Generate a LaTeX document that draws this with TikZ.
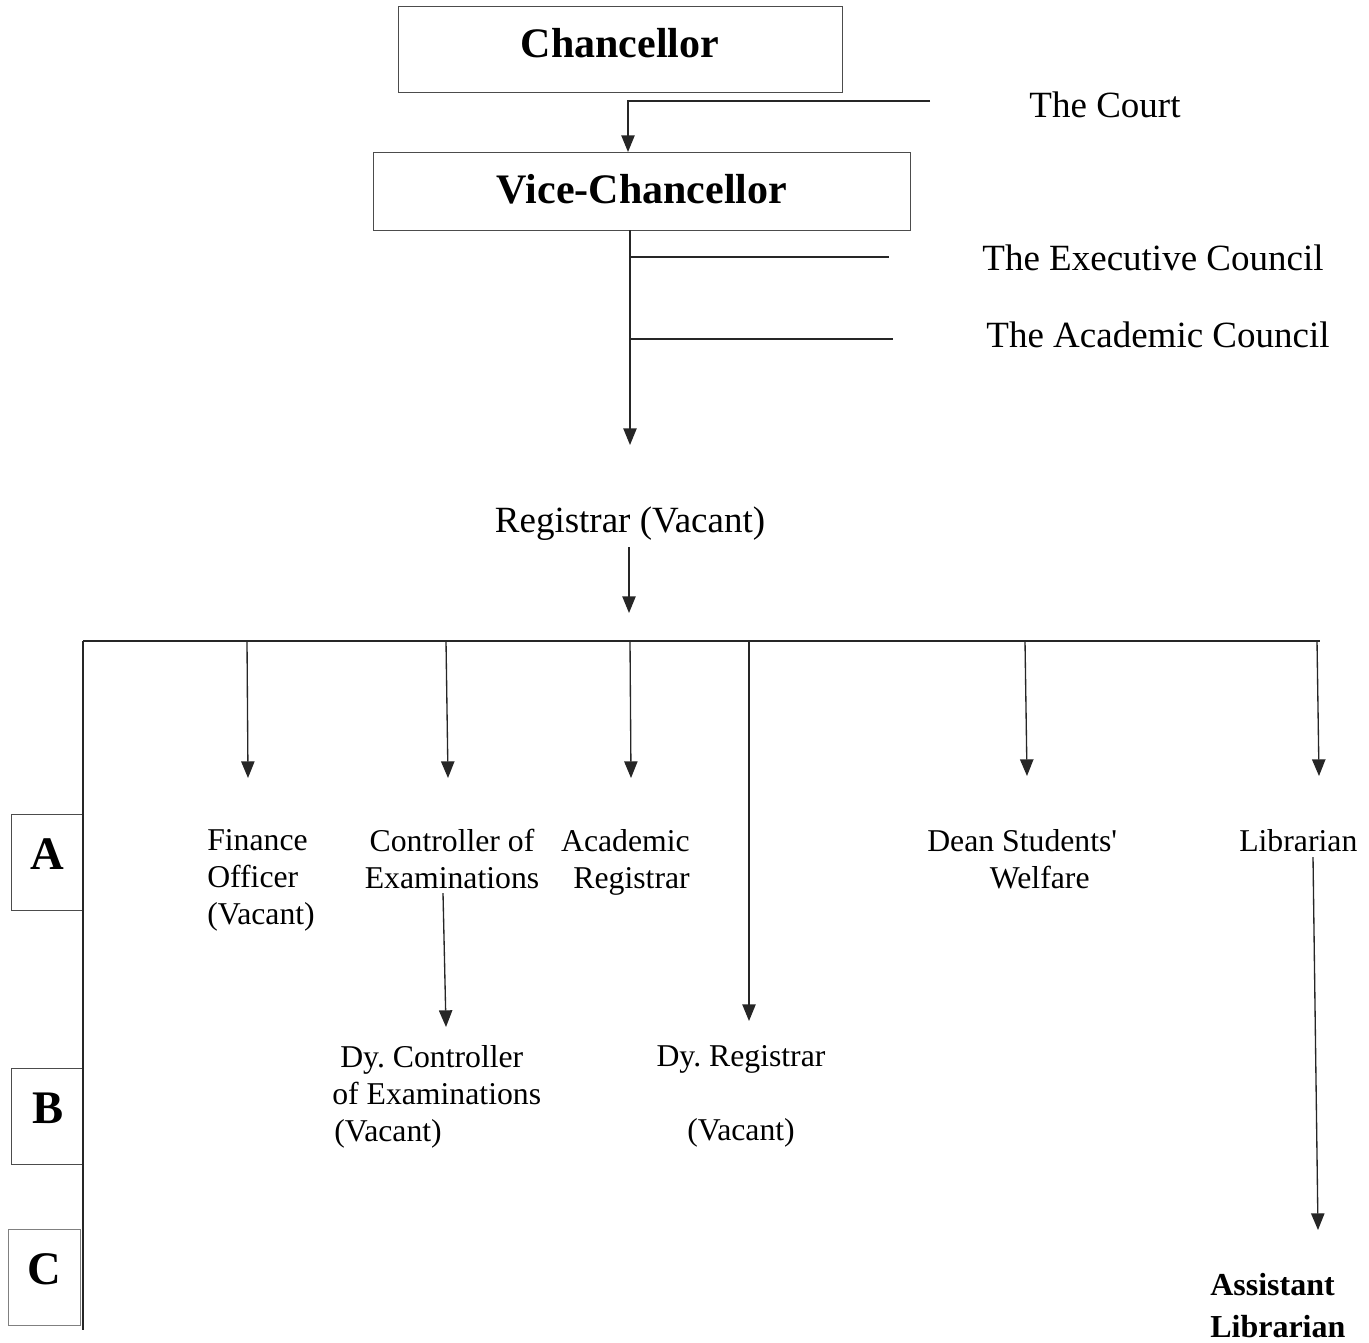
\documentclass[tikz,border=0pt]{standalone}
\usepackage{fontspec}
\setmainfont{Liberation Serif}
\newfontfamily\plainquote{Liberation Serif}[Ligatures=TeXOff]
\usetikzlibrary{arrows.meta}
\begin{document}
\frenchspacing
\begin{tikzpicture}[x=0.75pt,y=-0.75pt,
  line/.style={line width=1pt, draw=black!85},
  arr/.style={line width=1pt, draw=black!85, -{Triangle[width=10pt,length=12.5pt]}},
  box/.style={draw=black!70, line width=1pt, inner sep=0pt},
  reg/.style={font=\fontsize{27.75}{27.75}\selectfont, inner sep=0pt},
  small/.style={font=\fontsize{23.8}{27.75}\selectfont\frenchspacing, inner sep=0pt},
  head/.style={font=\fontsize{31.5}{31.5}\selectfont\bfseries, inner sep=0pt},
  lvl/.style={box, minimum width=54pt, minimum height=72pt, text height=24pt, text depth=13.5pt,
    font=\fontsize{35}{35}\selectfont\bfseries},
]
\useasboundingbox (0,0) rectangle (1369,1342);

% top boxes
\node[box, anchor=north west, minimum width=333pt, minimum height=64.5pt] (chanbox) at (398,6) {};
\node[head, anchor=base] (chan) at (620,57) {Chancellor};
\node[box, anchor=north west, minimum width=402.75pt, minimum height=58.5pt] (vcbox) at (373,152) {};
\node[head, anchor=base] (vc) at (642,203) {Vice-Chancellor};

% bodies
\node[reg, anchor=base] (court) at (1105,117) {The Court};
\node[reg, anchor=base] (exec) at (1153,270) {The Executive Council};
\node[reg, anchor=base] (acad) at (1158,347) {The Academic Council};
\node[reg, anchor=base] (registrar) at (630,532) {Registrar (Vacant)};

% level A
\node[small, anchor=north west, align=left] (fin) at (207,829) {Finance\\Officer\\(Vacant)};
\node[small, anchor=north, align=center] (coe) at (452,829) {Controller of\\Examinations};
\node[small, anchor=north east, align=right] (areg) at (690,829) {Academic\\Registrar};
\node[small, anchor=north west, align=left] (dsw) at (927,829) {{\plainquote Dean Students'}\\\hspace*{47pt}Welfare};
\node[small, anchor=base west] (lib) at (1239,851) {Librarian};

% level B
\node[small, anchor=north west, align=left] (dcoe) at (332,1045) {\hspace*{6pt}Dy. Controller\\of Examinations\\\hspace*{1.5pt}(Vacant)};
\node[small, anchor=north, align=center] (dreg) at (741,1045) {Dy. Registrar\\[27.75pt](Vacant)};

% level C
\node[anchor=north west, align=left, inner sep=0pt, font=\fontsize{24}{31.5}\selectfont\bfseries] (alib) at (1210,1273) {Assistant\\Librarian};

% level markers
\node[lvl, anchor=north west] (A) at (11,814) {A};
\node[lvl, anchor=north west] (B) at (11,1068) {B};
\node[lvl, anchor=north west, draw=black!50] (C) at (8,1229) {C};

% coordinates
\coordinate (courtend) at (930,101);
\coordinate (courtturn) at (628,101);
\coordinate (vcout) at (630,230);
\coordinate (regtip) at (630,445);
\coordinate (execend) at (889,257);
\coordinate (acadend) at (893,339);
\coordinate (regout) at (629,547);
\coordinate (bustip) at (629,613);
\coordinate (busL) at (83,641);
\coordinate (busR) at (1320,641);
\coordinate (busbot) at (83,1330);

% connectors
\draw[arr] (courtend) -- (courtturn) -- (courtturn |- vcbox.north);
\draw[arr] (vcout) -- (regtip);
\draw[line] (vcout |- execend) -- (execend);
\draw[line] (vcout |- acadend) -- (acadend);
\draw[arr] (regout) -- (bustip);
\draw[line] (busL) -- (busR);
\draw[line] (busL) -- (busbot);

\draw[arr] (247,641) -- (248,778);
\draw[arr] (446,641) -- (448,778);
\draw[arr] (630,641) -- (631,778);
\draw[arr] (749,641) -- (749,1021);
\draw[arr] (1025,641) -- (1027,776);
\draw[arr] (1317,641) -- (1319,776);

\draw[arr] (443,893) -- (446,1027);
\draw[arr] (1313,857) -- (1318,1230);
\end{tikzpicture}
\end{document}
